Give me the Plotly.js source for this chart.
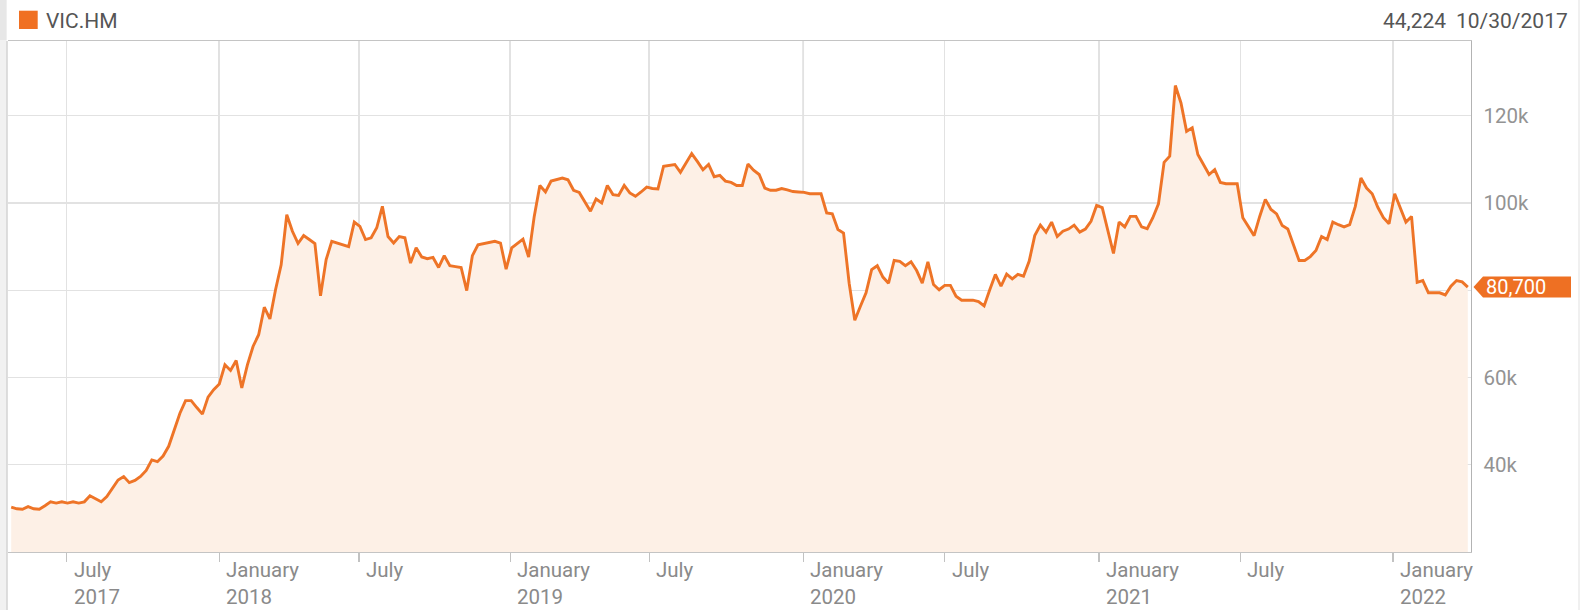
<!DOCTYPE html>
<html>
<head>
<meta charset="utf-8">
<script src="https://cdn.plot.ly/plotly-3.0.1.min.js"></script>
<style>
  html, body { margin: 0; padding: 0; background: #ffffff; }
  #chart { width: 1588px; height: 610px; }
</style>
</head>
<body>
<div id="chart"></div>
<script>
// ---------------- DATA ----------------
const seriesName = 'VIC.HM';
const startDate = '2017-04-17';           // first weekly observation (Monday)
const weeklyClose = [
  30300, 29900, 29800, 30400, 29900, 29800, 30600, 31500, 31200, 31500,
  31200, 31500, 31200, 31500, 32900, 32100, 31500, 32700, 34600, 36500,
  37300, 35900, 36400, 37300, 38700, 41100, 40700, 42000, 44224, 48000,
  51800, 54700, 54700, 53100, 51600, 55500, 57200, 58500, 62900, 61600,
  63900, 57600, 62900, 67100, 69800, 76100, 73400, 80100, 85800, 97300,
  93500, 90700, 92500, 91600, 90700, 78700, 87000, 91200, 90800, 90400,
  90000, 95600, 94600, 91600, 92000, 94300, 99200, 92300, 90800, 92300,
  92000, 86200, 89700, 87600, 87200, 87500, 85200, 87900, 85600, 85400,
  85200, 79900, 87900, 90400, 90700, 91000, 91200, 90800, 84800, 89700,
  90700, 91700, 87600, 96900, 104000, 102500, 105000, 105400, 105700, 105300,
  102900, 102400, 100200, 98100, 100900, 100000, 104000, 101900, 101700, 104000,
  102300, 101500, 102500, 103600, 103300, 103200, 108400, 108600, 108800, 107000,
  109200, 111300, 109500, 107600, 108800, 106000, 106300, 105000, 104700, 104000,
  104000, 108900, 107500, 106500, 103400, 102900, 102900, 103300, 103000, 102600,
  102500, 102400, 102100, 102100, 102100, 97700, 97500, 93900, 93100, 81600,
  73100, 76300, 79400, 84700, 85600, 83000, 81600, 86800, 86600, 85600,
  86500, 84500, 81600, 86500, 81300, 80100, 81100, 81100, 78600, 77700,
  77700, 77700, 77400, 76400, 80100, 83600, 80900, 83700, 82600, 83600,
  83200, 86600, 92500, 94900, 93300, 95600, 92300, 93500, 94000, 94900,
  93300, 94000, 95800, 99400, 98900, 93700, 88400, 95600, 94500, 96900,
  96900, 94500, 94100, 96600, 99800, 109300, 110700, 126900, 122900, 116400,
  117200, 111100, 108900, 106500, 107600, 104700, 104400, 104400, 104400, 96600,
  94600, 92500, 96900, 100800, 98500, 97500, 94800, 94000, 90400, 86800,
  86800, 87700, 89100, 92300, 91600, 95600, 95000, 94500, 95000, 99200,
  105700, 103400, 102100, 99000, 96600, 95200, 102100, 98800, 95600, 96900,
  81800, 82200, 79400, 79400, 79400, 78900, 80900, 82200, 81900, 80700
];
const readoutDate = '2017-10-30';         // hovered point shown top-right

const tickDates  = ['2017-06-25', '2018-01-01', '2018-06-24', '2018-12-29', '2019-06-20',
                    '2019-12-29', '2020-06-22', '2020-12-31', '2021-06-25', '2022-01-01'];
const tickLabels = ['July<br>2017', 'January<br>2018', 'July', 'January<br>2019', 'July',
                    'January<br>2020', 'July', 'January<br>2021', 'July', 'January<br>2022'];
const yTickVals = [40000, 60000, 80000, 100000, 120000];
const yTickText = ['40k', '60k', '', '100k', '120k'];

// ---------------- DERIVED ----------------
const dates = weeklyClose.map((_, i) => {
  const d = new Date(startDate + 'T00:00:00Z');
  d.setUTCDate(d.getUTCDate() + 7 * i);
  return d.toISOString().slice(0, 10);
});
const lastValue = weeklyClose[weeklyClose.length - 1];
const ri = dates.indexOf(readoutDate);
const fmt = v => v.toLocaleString('en-US');
const rd = readoutDate.split('-');
const readoutDateText = (+rd[1]) + '/' + (+rd[2]) + '/' + rd[0];

// ---------------- GEOMETRY ----------------
const W = 1588, H = 610, ML = 8, MR = 117, MT = 41, MB = 58;
const PW = W - ML - MR, PH = H - MT - MB;
const px2x = p => (p - ML) / PW;
const py2y = p => (H - MB - p) / PH;

const ORANGE = '#ee7427';
const FONT = 'Roboto, "Open Sans", sans-serif';

const trace = {
  x: dates, y: weeklyClose, type: 'scatter', mode: 'lines',
  name: seriesName,
  line: { color: ORANGE, width: 2.9, shape: 'linear' },
  fill: 'tozeroy', fillcolor: '#fdf0e6',
  hoverinfo: 'skip'
};

const shapes = [];
// January (major) grid lines
tickDates.forEach((d, i) => {
  if (tickLabels[i].startsWith('January')) {
    shapes.push({ type: 'line', xref: 'x', yref: 'paper', x0: d, x1: d, y0: 0, y1: 1,
                  layer: 'below', line: { color: '#ababab', width: 1.3 } });
  }
});
// container edges
shapes.push({ type: 'rect', xref: 'paper', yref: 'paper', x0: px2x(0), x1: px2x(6.5), y0: py2y(H), y1: py2y(0),
              fillcolor: '#f1f1f1', line: { width: 0 } });
shapes.push({ type: 'rect', xref: 'paper', yref: 'paper', x0: px2x(0), x1: px2x(6.5), y0: py2y(40), y1: py2y(0),
              fillcolor: '#e7e7e7', line: { width: 0 } });
shapes.push({ type: 'line', xref: 'paper', yref: 'paper', x0: px2x(7), x1: px2x(7), y0: py2y(H), y1: py2y(41),
              line: { color: '#c8c8c8', width: 1.2 } });
shapes.push({ type: 'line', xref: 'paper', yref: 'paper', x0: px2x(1579), x1: px2x(1579), y0: py2y(H), y1: py2y(0),
              line: { color: '#e6e6e6', width: 1.2 } });
// legend swatch
shapes.push({ type: 'rect', xref: 'paper', yref: 'paper', x0: px2x(19), x1: px2x(37.7), y0: py2y(29), y1: py2y(10.7),
              fillcolor: '#f07022', line: { width: 0 } });
// last-value tag (pentagon pointing left), anchored on last value
shapes.push({
  type: 'path', xref: 'paper', yref: 'y', ysizemode: 'pixel', yanchor: lastValue,
  path: 'M ' + px2x(1473.5) + ',0 L ' + px2x(1483) + ',10.5 L ' + px2x(1571) + ',10.5 L ' +
        px2x(1571) + ',-10.5 L ' + px2x(1483) + ',-10.5 Z',
  fillcolor: '#ee7023', line: { width: 0 }
});

const annotations = [];
tickDates.forEach((d, i) => {
  annotations.push({
    xref: 'x', yref: 'paper', x: d, y: py2y(556), xanchor: 'left', yanchor: 'top',
    xshift: 5, align: 'left', showarrow: false, text: tickLabels[i],
    font: { family: FONT, size: 20.5, color: '#8a8a8a' }
  });
});
annotations.push({ xref: 'paper', yref: 'paper', x: px2x(44), y: py2y(21), xanchor: 'left', yanchor: 'middle',
  showarrow: false, text: seriesName, font: { family: FONT, size: 21, color: '#555555' } });
annotations.push({ xref: 'paper', yref: 'paper', x: px2x(1570), y: py2y(21), xanchor: 'right', yanchor: 'middle',
  showarrow: false, text: readoutDateText, font: { family: FONT, size: 21, color: '#555555' } });
annotations.push({ xref: 'paper', yref: 'paper', x: px2x(1448), y: py2y(21), xanchor: 'right', yanchor: 'middle',
  showarrow: false, text: fmt(weeklyClose[ri]), font: { family: FONT, size: 21, color: '#555555' } });
annotations.push({ xref: 'paper', yref: 'y', x: px2x(1484), y: lastValue, xanchor: 'left', yanchor: 'middle',
  showarrow: false, text: fmt(lastValue), font: { family: FONT, size: 20, color: '#ffffff' } });

const layout = {
  width: W, height: H,
  margin: { l: ML, r: MR, t: MT, b: MB, pad: 0 },
  paper_bgcolor: '#ffffff', plot_bgcolor: '#ffffff',
  showlegend: false,
  font: { family: FONT },
  xaxis: {
    type: 'date', range: ['2017-04-13', '2022-04-08'],
    tickmode: 'array', tickvals: tickDates, showticklabels: false,
    ticks: 'outside', ticklen: 9, tickwidth: 1.2, tickcolor: '#c2c2c2',
    showgrid: true, gridcolor: '#e2e2e2', gridwidth: 1.3,
    showline: true, linecolor: '#c4c4c4', linewidth: 1.3, mirror: true,
    zeroline: false, automargin: false, fixedrange: true
  },
  yaxis: {
    range: [20000, 137100], side: 'right',
    tickmode: 'array', tickvals: yTickVals, ticktext: yTickText,
    ticks: '', ticklabelstandoff: 7,
    tickfont: { family: FONT, size: 20.5, color: '#939393' },
    showgrid: true, gridcolor: '#e2e2e2', gridwidth: 1.3,
    showline: true, linecolor: '#b3b3b3', linewidth: 1.3,
    zeroline: false, automargin: false, fixedrange: true
  },
  shapes: shapes,
  annotations: annotations
};

Plotly.newPlot('chart', [trace], layout, { displayModeBar: false, staticPlot: true });
</script>
</body>
</html>
